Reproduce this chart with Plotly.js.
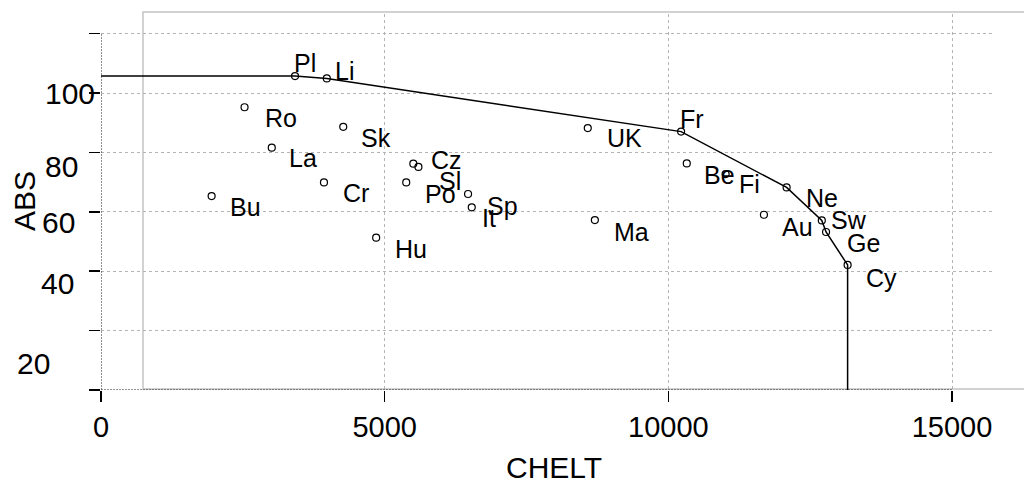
<!DOCTYPE html>
<html>
<head>
<meta charset="utf-8">
<script src="https://cdn.plot.ly/plotly-3.0.1.min.js"></script>
<style>
  html, body { margin: 0; padding: 0; background: #fff; }
  #chart { width: 1024px; height: 484px; }
</style>
</head>
<body>
<div id="chart"></div>
<script>
// ---- data ----
const countries = ['Pl','Li','Ro','Sk','La','Cz','Sl','Cr','Po','Bu','Sp','It','Hu','UK','Fr','Be','Fi','Ne','Au','Sw','Ge','Cy','Ma'];
const chelt = [3420, 3980, 2530, 4270, 3010, 5505, 5595, 3930, 5380, 1950, 6470, 6535, 4850, 8580, 10225, 10325, 11010, 12085, 11685, 12705, 12780, 13160, 8705];
const abs   = [105.7, 104.9, 95.2, 88.6, 81.6, 76.2, 75.1, 69.9, 69.9, 65.3, 66.0, 61.5, 51.3, 88.2, 87.0, 76.3, 72.7, 68.2, 59.0, 57.1, 53.2, 42.1, 57.2];
const frontierNames = ['Pl','Li','Fr','Ne','Sw','Ge','Cy'];
const xTickVals = [0, 5000, 10000, 15000];
const xTickText = ['0', '5000', '10000', '15000'];
const yTickVals = [0, 20, 40, 60, 80, 100, 120];
const yTickLabels = ['100', '80', '60', '40', '20'];
const xTitle = 'CHELT';
const yTitle = 'ABS';

// ---- label placement (pixel offsets from each point, layout only) ----
const labelShift = {
  Pl:[10,-13], Li:[18,-7], Ro:[36,11], Sk:[33,11], La:[31,10], Cz:[33,-4], Sl:[32,14],
  Cr:[32,11], Po:[34,12], Bu:[34,11], Sp:[34,12], It:[17,11], Hu:[35,11], UK:[37,10],
  Fr:[11,-13], Be:[33,12], Fi:[24,10], Ne:[35,11], Au:[34,12], Sw:[27,0], Ge:[37,11],
  Cy:[34,13], Ma:[37,12]
};
// y tick label positions in page pixels (right edge x, centre y) as in reference
const yLabelPix = [[97,93],[80,166],[77,222],[76,283],[52,363]];

const W = 1024, H = 484;
const M = {l: 101, r: 31, t: 14, b: 94};
const plotW = W - M.l - M.r, plotH = H - M.t - M.b;
const px2paperX = px => (px - M.l) / plotW;
const px2paperY = py => (H - M.b - py) / plotH;

const FONT = '"Liberation Sans", Arial, Helvetica, sans-serif';

const idx = n => countries.indexOf(n);
const fx = [0].concat(frontierNames.map(n => chelt[idx(n)]), [chelt[idx('Cy')]]);
const fy = [abs[idx('Pl')]].concat(frontierNames.map(n => abs[idx(n)]), [0]);

const traces = [
  {
    x: fx, y: fy, type: 'scatter', mode: 'lines',
    line: {color: '#000', width: 1.5}, hoverinfo: 'skip', showlegend: false
  },
  {
    x: chelt, y: abs, text: countries, type: 'scatter', mode: 'markers',
    marker: {symbol: 'circle-open', size: 7, color: '#000', line: {width: 1.2, color: '#000'}},
    showlegend: false
  }
];

const annotations = countries.map((c, i) => ({
  x: chelt[i], y: abs[i], xref: 'x', yref: 'y', text: c, showarrow: false,
  xshift: labelShift[c][0], yshift: -labelShift[c][1],
  xanchor: 'center', yanchor: 'middle',
  font: {family: FONT, size: 25, color: '#000'}
}));

yTickLabels.forEach((t, i) => {
  annotations.push({
    x: px2paperX(yLabelPix[i][0]), y: px2paperY(yLabelPix[i][1]),
    xref: 'paper', yref: 'paper', text: t, showarrow: false,
    xanchor: 'right', yanchor: 'middle',
    font: {family: FONT, size: 30, color: '#000'}
  });
});

// axis titles
annotations.push({
  x: px2paperX(554), y: px2paperY(467), xref: 'paper', yref: 'paper',
  text: xTitle, showarrow: false, xanchor: 'center', yanchor: 'middle',
  font: {family: FONT, size: 30, color: '#000'}
});
annotations.push({
  x: px2paperX(24), y: px2paperY(201), xref: 'paper', yref: 'paper',
  text: yTitle, showarrow: false, textangle: -90, xanchor: 'center', yanchor: 'middle',
  font: {family: FONT, size: 30, color: '#000'}
});

const layout = {
  width: W, height: H,
  margin: M,
  paper_bgcolor: '#fff', plot_bgcolor: '#fff',
  font: {family: FONT, size: 29, color: '#000'},
  showlegend: false,
  xaxis: {
    range: [0, plotW / (851 / 15000)],
    tickvals: xTickVals, ticktext: xTickText,
    ticks: 'outside', ticklen: 11, tickwidth: 1.5, tickcolor: '#000',
    showgrid: true, gridcolor: '#b4b4b4', griddash: 'dot', gridwidth: 1,
    zeroline: false, showline: false,
    tickfont: {family: FONT, size: 29, color: '#000'},
    automargin: false
  },
  yaxis: {
    range: [0, plotH / 2.97],
    tickvals: yTickVals, showticklabels: false,
    ticks: 'outside', ticklen: 11, tickwidth: 1.5, tickcolor: '#000',
    showgrid: true, gridcolor: '#b4b4b4', griddash: 'dot', gridwidth: 1,
    zeroline: false, showline: false,
    automargin: false
  },
  shapes: [
    {type: 'rect', xref: 'paper', yref: 'paper', layer: 'below',
     x0: px2paperX(143), x1: px2paperX(1040), y0: px2paperY(389), y1: px2paperY(12),
     line: {color: '#c4c4c4', width: 1.5}},
    {type: 'line', xref: 'x', yref: 'y', x0: 0, x1: 0, y0: 0, y1: 120,
     line: {color: '#222', width: 1, dash: '2px,1px'}},
    {type: 'line', xref: 'x', yref: 'y', x0: 0, x1: 15000, y0: 0, y1: 0,
     line: {color: '#222', width: 1, dash: '2px,1px'}}
  ],
  annotations: annotations
};

Plotly.newPlot('chart', traces, layout, {displayModeBar: false, staticPlot: true});
</script>
</body>
</html>
